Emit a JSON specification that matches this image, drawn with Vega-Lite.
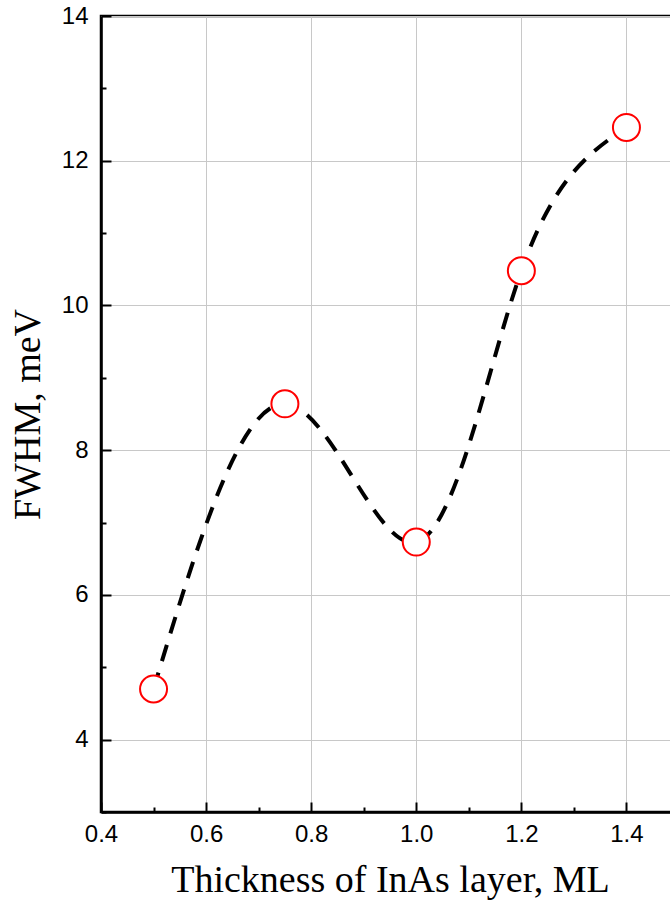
{
  "$schema": "https://vega.github.io/schema/vega-lite/v6.json",
  "autosize": "none",
  "width": 578,
  "height": 796,
  "padding": {"left": 101, "top": 16, "right": 0, "bottom": 90},
  "background": "white",
  "config": {
    "view": {"stroke": "black", "strokeWidth": 2.5},
    "axis": {
      "domainColor": "black",
      "domainWidth": 2.5,
      "tickColor": "black",
      "tickWidth": 2,
      "gridColor": "#c8c8c8",
      "gridWidth": 1,
      "labelFont": "Liberation Sans",
      "labelFontSize": 24,
      "labelColor": "black",
      "labelFlush": false,
      "labelOverlap": false,
      "titleFont": "Liberation Serif",
      "titleFontSize": 38,
      "titleFontWeight": "normal",
      "titleColor": "black"
    }
  },
  "data": {
    "values": [
      {"thickness": 0.5, "fwhm": 4.7},
      {"thickness": 0.75, "fwhm": 8.64},
      {"thickness": 1.0, "fwhm": 6.73},
      {"thickness": 1.2, "fwhm": 10.48},
      {"thickness": 1.4, "fwhm": 12.46}
    ]
  },
  "encoding": {
    "x": {
      "field": "thickness",
      "type": "quantitative",
      "scale": {"domain": [0.4, 1.5], "nice": false, "zero": false},
      "axis": {
        "title": "Thickness of InAs layer, ML",
        "values": [0.4, 0.5, 0.6, 0.7, 0.8, 0.9, 1.0, 1.1, 1.2, 1.3, 1.4, 1.5],
        "format": ".1f",
        "labelExpr": "round(datum.value * 10) % 2 == 0 ? datum.label : ''",
        "tickSize": {"condition": {"test": "round(datum.value * 10) % 2 == 0", "value": -10}, "value": -5},
        "gridOpacity": {"condition": {"test": "round(datum.value * 10) % 2 == 0", "value": 1}, "value": 0},
        "labelPadding": 20,
        "titlePadding": 10
      }
    },
    "y": {
      "field": "fwhm",
      "type": "quantitative",
      "scale": {"domain": [3, 14], "nice": false, "zero": false},
      "axis": {
        "title": "FWHM, meV",
        "values": [3, 4, 5, 6, 7, 8, 9, 10, 11, 12, 13, 14],
        "format": "d",
        "labelExpr": "datum.value % 2 == 0 ? datum.label : ''",
        "tickSize": {"condition": {"test": "datum.value % 2 == 0", "value": -10}, "value": -5},
        "gridOpacity": {"condition": {"test": "datum.value % 2 == 0", "value": 1}, "value": 0},
        "labelPadding": 23,
        "titlePadding": 14
      }
    }
  },
  "layer": [
    {
      "mark": {
        "type": "line",
        "interpolate": "natural",
        "color": "black",
        "strokeWidth": 4,
        "strokeDash": [17, 12]
      }
    },
    {
      "mark": {
        "type": "point",
        "shape": "circle",
        "filled": true,
        "color": "white",
        "fillOpacity": 1,
        "opacity": 1,
        "stroke": "#ff0000",
        "strokeWidth": 2,
        "size": 729
      }
    }
  ]
}
